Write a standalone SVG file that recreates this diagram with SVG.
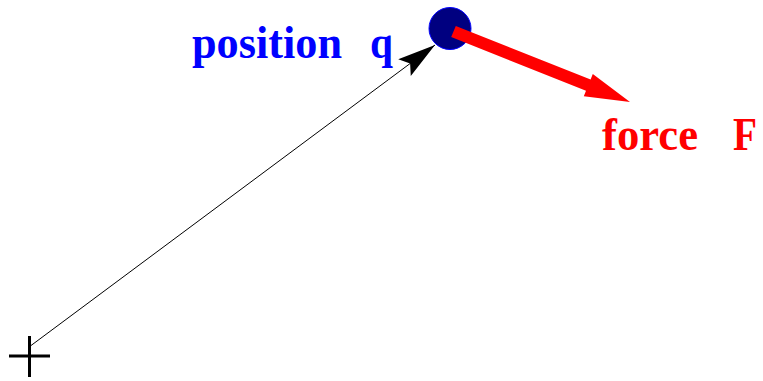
<svg xmlns="http://www.w3.org/2000/svg" width="763" height="381" viewBox="0 0 763 381">
<style>
.lbl{font-family:"Liberation Serif","Times New Roman",serif;font-weight:bold;font-size:47px}
</style>
<defs>
<marker id="ah" markerWidth="40" markerHeight="40" refX="0" refY="0" orient="auto" markerUnits="userSpaceOnUse" viewBox="-40 -20 40 40" overflow="visible">
<path d="M0,0 L-38,-10.5 L-31,0 L-38,10.5 Z" fill="#000"/>
</marker>
</defs>
<rect width="763" height="381" fill="#fff"/>
<g id="origin">
<line x1="9" y1="356" x2="50" y2="356" stroke="#000" stroke-width="3"/>
<line x1="29.5" y1="336" x2="29.5" y2="377" stroke="#000" stroke-width="3"/>
</g>
<g id="connectors">
<line x1="29" y1="347" x2="435" y2="45" stroke="#000" stroke-width="1" marker-end="url(#ah)"/>
</g>
<g id="particle">
<circle cx="450" cy="28.5" r="21" fill="#000080" stroke="#0000ff" stroke-width="1"/>
</g>
<g id="force">
<path d="M451.2,37.1 L586,90.7 L583.8,96.2 L630,102 L592.8,74 L590.6,79.5 L455.8,25.9 Z" fill="#ff0000"/>
</g>
<g id="labels">
<text class="lbl" x="192" y="58" fill="#0000ff" textLength="150" lengthAdjust="spacingAndGlyphs">position</text>
<text class="lbl" x="370" y="58" fill="#0000ff" textLength="23" lengthAdjust="spacingAndGlyphs">q</text>
<text class="lbl" x="602" y="150" fill="#ff0000" textLength="96" lengthAdjust="spacingAndGlyphs">force</text>
<text class="lbl" x="733" y="150" fill="#ff0000" textLength="24" lengthAdjust="spacingAndGlyphs">F</text>
</g>
</svg>
